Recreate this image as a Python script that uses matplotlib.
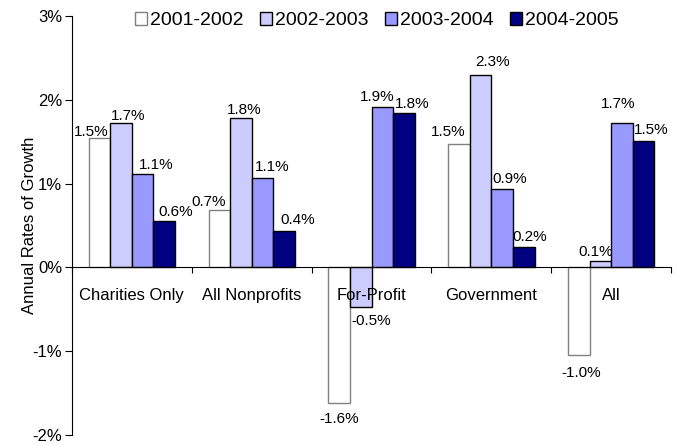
import numpy as np
import matplotlib
import matplotlib.pyplot as plt
matplotlib.use('Agg')

plt.rcParams['font.family'] = ['Liberation Sans', 'DejaVu Sans']

categories = ['Charities Only', 'All Nonprofits', 'For-Profit', 'Government', 'All']
series = ['2001-2002', '2002-2003', '2003-2004', '2004-2005']
vals_0102 = [1.55, 0.69, -1.62, 1.47, -1.04]
vals_0203 = [1.72, 1.78, -0.47, 2.30, 0.08]
vals_0304 = [1.12, 1.07, 1.92, 0.93, 1.72]
vals_0405 = [0.55, 0.43, 1.84, 0.24, 1.51]
labels_0102 = ['1.5%', '0.7%', '-1.6%', '1.5%', '-1.0%']
labels_0203 = ['1.7%', '1.8%', '-0.5%', '2.3%', '0.1%']
labels_0304 = ['1.1%', '1.1%', '1.9%', '0.9%', '1.7%']
labels_0405 = ['0.6%', '0.4%', '1.8%', '0.2%', '1.5%']

# hand-placed label nudges (pixels), one row per series
label_dx = [[-8, -11, 0, -11, 2],
            [7.5, 3, 10, 11.5, -5],
            [14, 10, -5, 7, -4],
            [12, 14, 8, 6, 7.5]]
label_gap = [[1.7, 4, 9, 8, 11],
             [3.6, 4.3, 7.3, 9, 5],
             [4.3, 6.7, 6, 6.7, 15],
             [5, 7.7, 5, 6.7, 6.7]]

colors = ['#FFFFFF', '#CCCCFF', '#9999FF', '#000080']
edges = ['#808080', 'black', 'black', 'black']

fig = plt.figure(figsize=(6.78, 4.45), dpi=100)
ax = fig.add_axes([0.106, 0.0225, 0.884, 0.9415])

x = np.arange(len(categories))
w = 0.18
px = 0.72  # points per pixel at 100 dpi
cap = 11  # cap height of an 11pt label in pixels
all_vals = [vals_0102, vals_0203, vals_0304, vals_0405]
all_labels = [labels_0102, labels_0203, labels_0304, labels_0405]
for i, (v, lab) in enumerate(zip(all_vals, all_labels)):
    pos = x + (i - 1.5) * w
    ax.bar(pos, v, w, color=colors[i], edgecolor=edges[i], linewidth=1, label=series[i])
    for j, (p, val, t) in enumerate(zip(pos, v, lab)):
        dx = label_dx[i][j] * px
        if val >= 0:
            dy = label_gap[i][j] * px
        else:
            dy = -(label_gap[i][j] + cap) * px
        ax.annotate(t, (p, val), xytext=(dx, dy), textcoords='offset points',
                    ha='center', va='baseline', fontsize=11)

for i, c in enumerate(categories):
    ax.text(i, -0.33, c, ha='center', va='center', fontsize=12)

ax.set_xlim(-0.5, 4.48)
ax.set_ylim(-2, 3)
ax.set_yticks([-2, -1, 0, 1, 2, 3])
ax.set_yticklabels(['-2%', '-1%', '0%', '1%', '2%', '3%'], fontsize=12)
ax.set_xticks(np.arange(-0.5, 5, 1))
ax.set_xticklabels([])
ax.tick_params(axis='x', direction='out', length=4)
ax.tick_params(axis='y', direction='out', length=5, pad=2)
ax.spines['top'].set_visible(False)
ax.spines['right'].set_visible(False)
ax.spines['bottom'].set_position(('data', 0))
ax.set_ylabel('Annual Rates of Growth', fontsize=12)
ax.yaxis.set_label_coords(-0.058, 0.5)

fig.legend(loc='center', bbox_to_anchor=(377 / 678, 0.953), ncol=4, frameon=False,
           fontsize=14, handlelength=0.62, handleheight=0.62, handletextpad=0.15,
           columnspacing=0.85, borderpad=0)

fig.savefig('out.png', dpi=100)
